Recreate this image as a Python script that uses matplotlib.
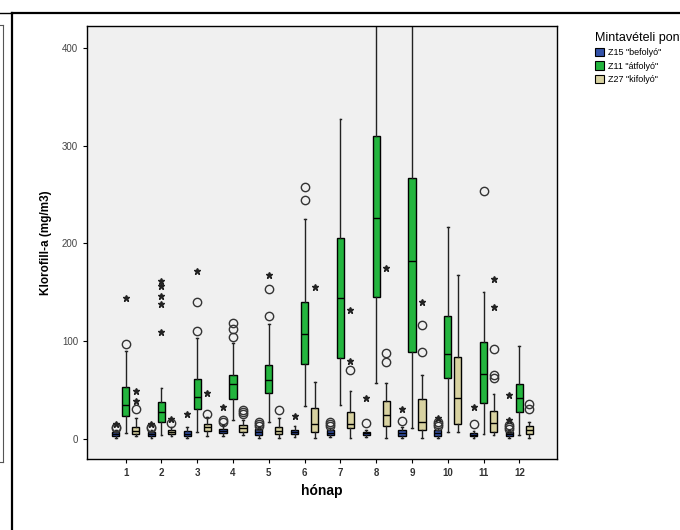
import numpy as np
import matplotlib
matplotlib.use("Agg")
import matplotlib.pyplot as plt
from matplotlib.patches import Patch
from matplotlib.lines import Line2D

plt.rcParams['font.family'] = ['Liberation Sans', 'DejaVu Sans']

months = np.arange(1, 13)
month_labels = [str(m) for m in months]

series_names = ['Z15 "befolyó"', 'Z11 "átfolyó"', 'Z27 "kifolyó"']
series_colors = ['#3352a8', '#23b53e', '#d8d2a1']

# Z15 "befolyó"
z15_q1 = [3, 3, 3, 6, 4, 5, 4, 4, 3, 3, 3, 3]
z15_med = [5, 5, 5, 8, 7, 7, 6, 6, 6, 6, 4, 5]
z15_q3 = [7, 7, 8, 10, 10, 9, 9, 7, 9, 9, 6, 7]
z15_lo = [1, 1, 1, 3, 1, 2, 2, 2, 1, 1, 1, 1]
z15_hi = [9, 9, 12, 14, 12, 13, 11, 9, 12, 11, 8, 9]
z15_out = [[11, 12], [11, 12], [], [17, 19], [13, 15, 17], [], [13, 15, 17],
           [16], [18], [13, 15, 17], [15], [10, 12, 14]]
z15_ext = [[15], [15], [26], [33], [], [23], [], [42], [31], [21], [33], [19, 45]]

# Z11 "átfolyó"
z11_q1 = [23.5, 17.7, 31, 40.6, 46.7, 76.7, 82.5, 145.5, 89.3, 62.7, 36.5, 27.3]
z11_med = [35, 28, 43, 56, 60.3, 107.4, 143.8, 226, 182.3, 86.6, 66.5, 42.3]
z11_q3 = [53, 38, 61, 65.4, 75.7, 139.8, 205, 310, 266.5, 125.8, 99.5, 56]
z11_lo = [6.5, 4, 7.5, 19.4, 17.7, 33.7, 34.8, 57, 11.6, 7.5, 5, 4]
z11_hi = [90, 52, 103, 98.5, 117.6, 225, 327, 600, 600, 217, 150.6, 95]
z11_out = [[97], [], [110, 140], [104, 112, 119], [126, 153], [244, 258],
           [], [], [], [], [253], []]
z11_ext = [[144], [109, 138, 146, 156, 161], [172], [], [168], [],
           [], [], [], [], [], []]

# Z27 "kifolyó"
z27_q1 = [5, 5, 8, 7.5, 5, 7.5, 11.6, 13.3, 9.2, 15.3, 7.5, 5]
z27_med = [8.5, 7, 12, 11, 8.5, 15.3, 15.3, 24.5, 17.7, 42.3, 16, 9.5]
z27_q3 = [12, 9, 15, 14.3, 12, 31.4, 27.3, 39.2, 40.6, 83.5, 28.6, 13.6]
z27_lo = [3.4, 3, 3, 4, 1, 1.4, 1.4, 1.4, 1.4, 7.5, 4, 1.4]
z27_hi = [21, 12, 22, 19.4, 21, 58.6, 49.4, 57.6, 65.4, 167.7, 46, 17.7]
z27_out = [[31], [16], [25.5], [26, 28, 30], [30], [], [70], [79, 87.6],
           [89.3, 116], [], [62, 65, 91.6], [30.4, 35.4]]
z27_ext = [[39, 49], [20], [47], [], [], [155], [80, 132], [174.5], [140],
           [], [135, 164], []]

series = [
    (z15_q1, z15_med, z15_q3, z15_lo, z15_hi, z15_out, z15_ext),
    (z11_q1, z11_med, z11_q3, z11_lo, z11_hi, z11_out, z11_ext),
    (z27_q1, z27_med, z27_q3, z27_lo, z27_hi, z27_out, z27_ext),
]
offsets = [-0.28, 0.0, 0.28]

fig = plt.figure(figsize=(6.8, 5.3), dpi=100)
ax = fig.add_axes([0.128, 0.134, 0.691, 0.8175])
ax.set_facecolor('#f0f0f0')

for (q1, med, q3, lo, hi, out, ext), color, off in zip(series, series_colors, offsets):
    stats = []
    for i in range(len(months)):
        stats.append(dict(q1=q1[i], med=med[i], q3=q3[i], whislo=lo[i],
                          whishi=hi[i], fliers=out[i]))
    ax.bxp(stats, positions=months + off, widths=0.2, capwidths=0.05,
           patch_artist=True, manage_ticks=False,
           boxprops=dict(facecolor=color, edgecolor='black', linewidth=1),
           medianprops=dict(color='black', linewidth=1),
           whiskerprops=dict(color='#222222', linewidth=1),
           capprops=dict(color='#222222', linewidth=1),
           flierprops=dict(marker='o', markerfacecolor='none',
                           markeredgecolor='#333333', markersize=6,
                           markeredgewidth=1))
    for i, m in enumerate(months):
        if ext[i]:
            ax.plot([m + off] * len(ext[i]), ext[i], linestyle='none',
                    marker='*', color='#222222', markersize=5)

ax.set_xlim(-0.08, 13.05)
ax.set_ylim(-20.5, 422.5)
ax.set_xticks(months)
ax.set_xticklabels(month_labels, fontsize=7, fontweight='bold', color='#333333')
ax.set_yticks([0, 100, 200, 300, 400])
ax.tick_params(axis='y', labelsize=7, labelcolor='#444444', length=3)
ax.tick_params(axis='x', length=3)
for s in ax.spines.values():
    s.set_linewidth(1)
ax.set_xlabel('hónap', fontsize=10, fontweight='bold', labelpad=4)
ax.set_ylabel('Klorofill-a (mg/m3)', fontsize=8.5, fontweight='bold', labelpad=7)

handles = [Patch(facecolor=c, edgecolor='black', linewidth=0.8) for c in series_colors]
leg = fig.legend(handles, series_names, loc='upper left',
                 bbox_to_anchor=(0.869, 0.947), frameon=False,
                 title='Mintavételi pont', title_fontsize=9, fontsize=6.5,
                 handlelength=1.1, handleheight=1.1, handletextpad=0.4,
                 labelspacing=0.45, alignment='left', borderaxespad=0)

# page frame lines
fig.add_artist(Line2D([11.5 / 680, 1], [1 - 13 / 530] * 2, color='black', lw=1.6))
fig.add_artist(Line2D([0, 11.5 / 680], [1 - 13 / 530] * 2, color='black', lw=1.0))
fig.add_artist(Line2D([11.5 / 680] * 2, [0, 1 - 13 / 530], color='black', lw=1.6))
fig.add_artist(Line2D([2.5 / 680] * 2, [1 - 462 / 530, 1 - 25 / 530], color='#555555', lw=0.8))
fig.add_artist(Line2D([0, 2.5 / 680], [1 - 462 / 530] * 2, color='#555555', lw=0.8))
fig.add_artist(Line2D([0, 2.5 / 680], [1 - 25 / 530] * 2, color='#555555', lw=0.8))

fig.savefig('out.png', dpi=100)
